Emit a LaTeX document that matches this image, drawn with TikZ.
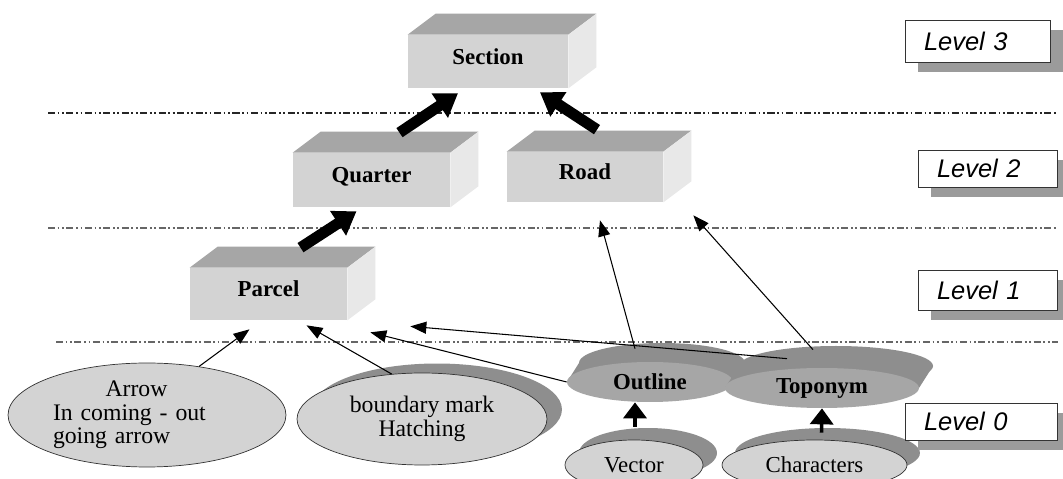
\documentclass[tikz,border=0pt]{standalone}
\usepackage{fontspec}
\setmainfont{Liberation Serif}
\newfontfamily\levelfont{Liberation Sans}
\usetikzlibrary{arrows.meta,shapes.geometric,shadows}

\definecolor{frontgray}{RGB}{211,211,211}
\definecolor{topgray}{RGB}{166,166,166}
\definecolor{sidegray}{RGB}{232,232,232}
\definecolor{discgray}{RGB}{166,166,166}
\definecolor{shadowgray}{RGB}{142,142,142}
\definecolor{boxshade}{RGB}{155,155,155}

\tikzset{
  block/.style={fill=frontgray, inner sep=0pt, text height=9pt, text depth=6pt,
    font=\fontsize{13}{13}\selectfont\bfseries},
  oval/.style={ellipse, draw=black!80, fill=frontgray, inner sep=0pt, font=\fontsize{13.5}{13.5}\selectfont},
  disc/.style={ellipse, fill=discgray, inner sep=0pt, font=\fontsize{13}{13}\selectfont\bfseries},
  levelbox/.style={draw=black!80, fill=white, inner xsep=0.38cm, inner ysep=0pt, align=left,
    font=\levelfont\itshape\fontsize{14.5}{14.5}\selectfont,
    general shadow={fill=boxshade, shadow xshift=0.26cm, shadow yshift=-0.2cm}},
  levelline/.style={line width=0.6pt, black!60, dash pattern=on 4pt off 1.5pt on 1pt off 1.5pt on 1pt off 1.5pt},
  bigarrow/.style={-{Triangle[length=0.44cm,width=0.56cm]}, line width=0.22cm},
  link/.style={-{Triangle[length=0.32cm,width=0.24cm]}, line width=0.6pt},
  uparrow/.style={-{Triangle[length=0.32cm,width=0.46cm]}, line width=2pt}
}

\newcommand{\blockfaces}[1]{%
  \fill[topgray] (#1.north west) -- ([shift={(28,-21)}]#1.north west)
    -- ([shift={(28,-21)}]#1.north east) -- (#1.north east) -- cycle;
  \fill[sidegray] (#1.north east) -- ([shift={(28,-21)}]#1.north east)
    -- ([shift={(28,-21)}]#1.south east) -- (#1.south east) -- cycle;
}

\begin{document}
\begin{tikzpicture}[x=0.02cm, y=-0.02cm]
\fill[white, use as bounding box] (0,0) rectangle (1063,479);
\clip (0,0) rectangle (1063,479);

\draw[levelline, black!85, line width=0.8pt] (48,113) -- (1058,113);
\draw[levelline] (48,228) -- (1058,228);
\draw[levelline] (56,342) -- (1058,342);

\node[block, minimum width=3.2cm, minimum height=1.06cm] (sec) at (488,61.5) {Section};
\node[block, minimum width=3.14cm, minimum height=1.08cm] (qua) at (371.5,180) {Quarter};
\node[block, minimum width=3.12cm, minimum height=1cm] (road) at (585,177) {Road};
\node[block, minimum width=3.14cm, minimum height=1.04cm] (par) at (268.5,294) {Parcel};
\blockfaces{sec}
\blockfaces{qua}
\blockfaces{road}
\blockfaces{par}

\node[oval, text width=3.76cm, align=left, minimum width=5.56cm, minimum height=2.08cm] (arr) at (147,415)
  {\hspace*{1.05cm}Arrow\\In coming - out\\going arrow};
\node[oval, align=center, minimum width=5cm, minimum height=1.84cm,
  general shadow={fill=shadowgray, shadow xshift=0.3cm, shadow yshift=0.19cm}] (bnd) at (422,419)
  {boundary mark\\Hatching};

\fill[shadowgray] (662,363) ellipse (83 and 20);
\fill[shadowgray] (567,382) -- (579,363) -- (745,363) -- (733,382) -- cycle;
\node[disc, minimum width=3.32cm, minimum height=0.8cm] (out) at (650,382) {Outline};
\fill[shadowgray] (836,366) ellipse (97 and 20);
\fill[shadowgray] (725,388) -- (739,366) -- (933,366) -- (919,388) -- cycle;
\node[disc, minimum width=3.88cm, minimum height=0.8cm] (top) at (822,388) {Toponym};

\node[oval, font=\fontsize{13}{13}\selectfont, minimum width=2.76cm, minimum height=1cm,
  general shadow={fill=shadowgray, shadow xshift=0.28cm, shadow yshift=0.24cm}] (vec) at (634,465) {Vector};
\node[oval, font=\fontsize{13}{13}\selectfont, minimum width=3.7cm, minimum height=1cm,
  general shadow={fill=shadowgray, shadow xshift=0.26cm, shadow yshift=0.24cm}] (chr) at (814.5,465) {Characters};

\node[levelbox, text width=2.14cm, minimum height=0.84cm] (lv3) at (977.5,41) {Level 3};
\node[levelbox, text width=2.02cm, minimum height=0.74cm] (lv2) at (987.5,168.5) {Level 2};
\node[levelbox, text width=2.02cm, minimum height=0.8cm] (lv1) at (987.5,290) {Level 1};
\node[levelbox, text width=2.28cm, minimum height=0.74cm] (lv0) at (981,421.5) {Level 0};

\draw[bigarrow] ([shift={(28,-20)}]qua.north) -- ([shift={(-30,5)}]sec.south);
\draw[bigarrow] ([shift={(12,-22)}]road.north) -- ([shift={(52,4)}]sec.south);
\draw[bigarrow] ([shift={(32,-20)}]par.north) -- ([shift={(-15,4)}]qua.south);

\draw[link] (arr.43) -- ([shift={(-19,9)}]par.south);
\draw[link] (bnd.124) -- ([shift={(38,5)}]par.south);
\draw[link] (out.west) -- ([shift={(23,12)}]par.south east);
\draw[link] ([shift={(-35,-9)}]top.north) -- ([shift={(63,6)}]par.south east);
\draw[link] ([shift={(-15,-13)}]out.north) -- ([shift={(15,18)}]road.south);
\draw[link] ([shift={(-9,-18)}]top.north) -- ([shift={(30,13)}]road.south east);

\draw[uparrow] ([shift={(1,-13)}]vec.north) -- ([shift={(-15,0)}]out.south);
\draw[uparrow] ([shift={(7,-7)}]chr.north) -- (top.south);
\end{tikzpicture}
\end{document}
